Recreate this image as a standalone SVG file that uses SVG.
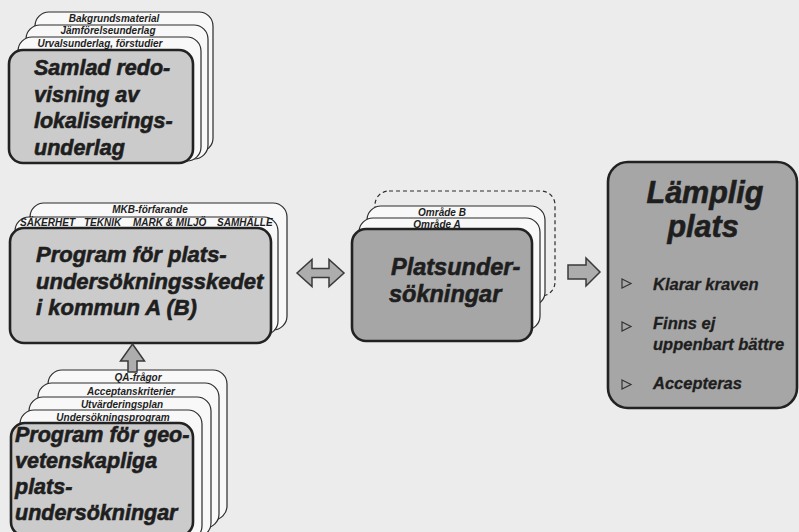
<svg xmlns="http://www.w3.org/2000/svg" width="799" height="532" viewBox="0 0 799 532">
<style>
.back{fill:#f8f8f8;stroke:#2b2b2b;stroke-width:1.2}
.dash{fill:none;stroke:#2b2b2b;stroke-width:1.2;stroke-dasharray:4 3}
.front{stroke:#222;stroke-width:2.6}
.light{fill:#cbcbcb}
.dark{fill:#a6a6a6}
.t{font-family:"Liberation Sans",Arial,sans-serif;font-weight:bold;font-style:italic;fill:#1e1e1e}
.heavy{stroke:#1e1e1e;stroke-width:0.6}
.big{font-size:21.5px}
.small{font-size:10px}
.mid{text-anchor:middle}
.bul{font-size:16.5px;stroke:#1e1e1e;stroke-width:0.3}
.tri{fill:none;stroke:#333;stroke-width:1.2}
.arrow{fill:#adadad;stroke:#3a3a3a;stroke-width:1.5}
</style>
<rect width="799" height="532" fill="#ececec"/>

<g id="node-samlad">
<rect class="back" x="35" y="12" width="178" height="140" rx="14"/>
<rect class="back" x="26" y="25" width="182" height="134" rx="14"/>
<rect class="back" x="18" y="37" width="183" height="124" rx="14"/>
<text class="t small mid" x="114" y="21.5">Bakgrundsmaterial</text>
<text class="t small mid" x="108" y="34">Jämförelseunderlag</text>
<text class="t small mid" x="100" y="47">Urvalsunderlag, förstudier</text>
<rect class="front light" x="9" y="50" width="184" height="113" rx="14"/>
<text class="t big heavy" x="34" y="75">Samlad redo-</text>
<text class="t big heavy" x="34" y="102">visning av</text>
<text class="t big heavy" x="34" y="128">lokaliserings-</text>
<text class="t big heavy" x="34" y="154.5">underlag</text>
</g>

<g id="node-program-plats">
<rect class="back" x="30" y="203" width="257" height="127" rx="14"/>
<rect class="back" x="15" y="217" width="263" height="118" rx="14"/>
<text class="t small mid" x="150" y="212.5">MKB-förfarande</text>
<text class="t small" x="20" y="225.5">SÄKERHET</text>
<text class="t small" x="84" y="225.5">TEKNIK</text>
<text class="t small" x="133" y="225.5">MARK &amp; MILJÖ</text>
<text class="t small" x="217" y="225.5">SAMHÄLLE</text>
<rect class="front light" x="10" y="228" width="261" height="115" rx="14"/>
<text class="t heavy" style="font-size:22px" x="36" y="262">Program för plats-</text>
<text class="t heavy" style="font-size:22px" x="36" y="288.5">undersökningsskedet</text>
<text class="t heavy" style="font-size:22px" x="36" y="315">i kommun A (B)</text>
</g>

<g id="node-program-geo">
<rect class="back" x="48" y="370" width="179" height="150" rx="14"/>
<rect class="back" x="38" y="383" width="181" height="145" rx="14"/>
<rect class="back" x="29" y="397" width="182" height="140" rx="14"/>
<rect class="back" x="20" y="410" width="182" height="130" rx="14"/>
<text class="t small mid" x="138" y="381">QA-frågor</text>
<text class="t small mid" x="131" y="394.5">Acceptanskriterier</text>
<text class="t small mid" x="122" y="408">Utvärderingsplan</text>
<text class="t small mid" x="113" y="420.5">Undersökningsprogram</text>
<rect class="front light" x="11" y="423" width="182" height="113" rx="14"/>
<text class="t big heavy" x="15" y="442">Program för geo-</text>
<text class="t big heavy" x="15" y="468">vetenskapliga</text>
<text class="t big heavy" x="15" y="494">plats-</text>
<text class="t big heavy" x="15" y="520">undersökningar</text>
</g>

<g id="node-platsundersokningar">
<rect class="dash" x="375" y="191" width="180" height="105" rx="14"/>
<rect class="back" x="367" y="206" width="178" height="100" rx="14"/>
<rect class="back" x="359" y="218" width="181" height="112" rx="14"/>
<text class="t small mid" x="442" y="216">Område B</text>
<text class="t small mid" x="437" y="227.5">Område A</text>
<rect class="front dark" x="352" y="229" width="180" height="112" rx="14"/>
<text class="t heavy" style="font-size:23.5px" x="391" y="275">Platsunder-</text>
<text class="t heavy" style="font-size:23.5px" x="389" y="302">sökningar</text>
</g>

<g id="node-lamplig">
<rect class="front dark" x="608" y="162" width="189" height="246" rx="20"/>
<text class="t mid heavy" style="font-size:30.5px" x="705" y="203">Lämplig</text>
<text class="t mid heavy" style="font-size:30.5px" x="703" y="237">plats</text>
<polygon class="tri" points="622,279 631,283.5 622,288"/>
<text class="t bul" x="653" y="290">Klarar kraven</text>
<polygon class="tri" points="622,322 631,326.5 622,331"/>
<text class="t bul" x="653" y="329">Finns ej</text>
<text class="t bul" x="653" y="350">uppenbart bättre</text>
<polygon class="tri" points="622,380 631,384.5 622,389"/>
<text class="t bul" x="653" y="389">Accepteras</text>
</g>

<g id="connectors">
<polygon class="arrow" points="132.5,344 144.5,361 137,361 137,372 128,372 128,361 120.5,361"/>
<polygon class="arrow" points="297,273 312,259.5 312,268.5 329,268.5 329,259.5 344,273 329,286.5 329,277.5 312,277.5 312,286.5"/>
<polygon class="arrow" points="568,265 586,265 586,258 600,272 586,286 586,279 568,279"/>
</g>
</svg>
